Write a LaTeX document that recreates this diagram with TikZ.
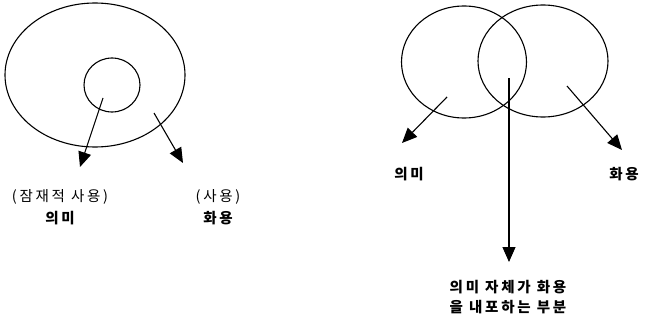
\documentclass[tikz,border=0pt]{standalone}
\usepackage{fontspec}
\setmainfont{Noto Sans CJK KR}[LetterSpace=19]
\usetikzlibrary{arrows.meta,positioning,shapes.geometric}

\begin{document}
\begin{tikzpicture}[
  x=1pt, y=-1pt,
  every node/.style={font=\fontsize{14.5}{17}\selectfont},
  ring/.style={ellipse, draw, line width=1.1pt, inner sep=0pt},
  arrow/.style={-{Triangle[length=15pt, width=13pt]}, line width=1.1pt},
  tag/.style={align=center, inner sep=1pt},
  word/.style={align=center, inner sep=1pt, font=\fontsize{14.5}{17}\selectfont\bfseries},
]
\useasboundingbox (0,0) rectangle (645,321);

% Left picture
\node[ring, minimum width=180pt, minimum height=144pt] (outer) at (95,75) {};
\node[ring, minimum width=56pt, minimum height=54pt] (inner) at (112,85) {};
\coordinate (innerFrom) at (103,98);
\coordinate (innerTo) at (80,167);
\coordinate (outerFrom) at (154,113);
\coordinate (outerTo) at (183,163);
\draw[arrow] (innerFrom) -- (innerTo);
\draw[arrow] (outerFrom) -- (outerTo);

\node[tag] (potential) at (60,197) {(잠재적 사용)};
\node[word] (meaningL) at (60,218) {의미};
\node[tag] (use) at (218,197) {(사용)};
\node[word] (pragL) at (218,218) {화용};

% Right picture
\node[ring, minimum width=125pt, minimum height=112pt] (meanC) at (464,62) {};
\node[ring, minimum width=130pt, minimum height=112pt] (pragC) at (543,61) {};
\coordinate (meanFrom) at (447,97);
\coordinate (meanTo) at (402,143);
\coordinate (pragFrom) at (567,86);
\coordinate (pragTo) at (622,150);
\coordinate (overlapFrom) at (509,78);
\coordinate (overlapTo) at (509,262);
\draw[arrow] (meanFrom) -- (meanTo);
\draw[arrow] (pragFrom) -- (pragTo);
\draw[arrow] (overlapFrom) -- (overlapTo);

\node[word] (meaningR) at (409,174) {의미};
\node[word] (pragR) at (624,174) {화용};
\node[word, font=\fontsize{14.5}{20}\selectfont\bfseries] (overlap) at (508,297) {의미 자체가 화용\\을 내포하는 부분};
\end{tikzpicture}
\end{document}
